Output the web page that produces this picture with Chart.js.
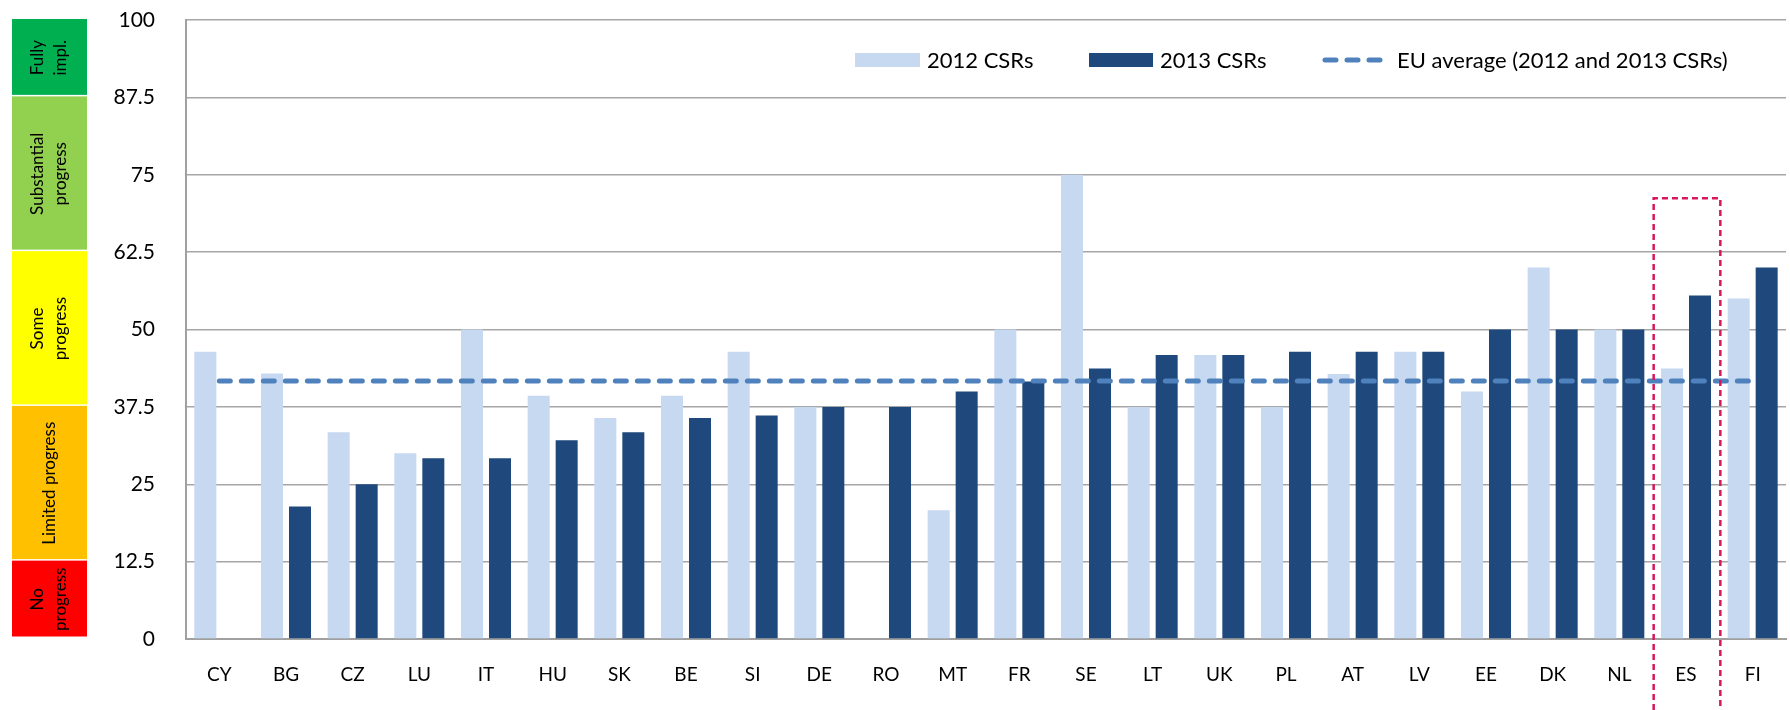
<!DOCTYPE html>
<html>
<head>
<meta charset="utf-8">
<script src="https://cdn.jsdelivr.net/npm/chart.js@4.4.0/dist/chart.umd.min.js"></script>
<style>
  html, body { margin: 0; padding: 0; background: white; }
  #wrap { width: 1790px; height: 710px; }
</style>
</head>
<body>
<div id="wrap"><canvas id="chart"></canvas></div>
<script>
const categories = ["CY", "BG", "CZ", "LU", "IT", "HU", "SK", "BE", "SI", "DE", "RO", "MT",
  "FR", "SE", "LT", "UK", "PL", "AT", "LV", "EE", "DK", "NL", "ES", "FI"];
const csr2012 = [46.4, 42.9, 33.4, 30.0, 50, 39.3, 35.7, 39.3, 46.4, 37.5, null, 20.8,
  50, 75, 37.5, 45.9, 37.5, 42.8, 46.4, 40.0, 60.0, 50, 43.7, 55.0];
const csr2013 = [null, 21.4, 25, 29.2, 29.2, 32.1, 33.4, 35.7, 36.1, 37.5, 37.5, 40.0,
  41.6, 43.7, 45.9, 45.9, 46.4, 46.4, 46.4, 50, 50, 50, 55.5, 60.0];
const euAverage = [41.7, 41.7, 41.7, 41.7, 41.7, 41.7, 41.7, 41.7, 41.7, 41.7, 41.7, 41.7,
  41.7, 41.7, 41.7, 41.7, 41.7, 41.7, 41.7, 41.7, 41.7, 41.7, 41.7, 41.7];
const yTicks = [0, 12.5, 25, 37.5, 50, 62.5, 75, 87.5, 100];

// progress bands on the left: from, to, label lines, colour
const bandFrom = [87.5, 62.5, 37.5, 12.5, 0];
const bandTo = [100, 87.5, 62.5, 37.5, 12.5];
const bandLabels = [["Fully", "impl."], ["Substantial", "progress"], ["Some", "progress"],
  ["Limited progress"], ["No", "progress"]];
const bandColors = ["#00b050", "#92d050", "#ffff00", "#ffc000", "#ff0000"];

const highlightCategory = "ES";
const highlightTop = 71.2;

const textFont = "Lato, 'Open Sans', sans-serif";

const bandsPlugin = {
  id: "bands",
  beforeDraw(chart) {
    const ctx = chart.ctx;
    const y = chart.scales.y;
    ctx.save();
    for (let i = 0; i < bandFrom.length; i++) {
      const top = y.getPixelForValue(bandTo[i]) - 1;
      const bottom = y.getPixelForValue(bandFrom[i]) - 1;
      const left = 12, right = 87;
      ctx.fillStyle = bandColors[i];
      ctx.fillRect(left, top, right - left, bottom - top - 1.5);
      ctx.save();
      ctx.translate((left + right) / 2, (top + bottom) / 2);
      ctx.rotate(-Math.PI / 2);
      ctx.fillStyle = "#000";
      ctx.font = "17px " + textFont;
      ctx.textAlign = "center";
      ctx.textBaseline = "middle";
      const lines = bandLabels[i];
      const lh = 23;
      lines.forEach((line, k) => {
        ctx.fillText(line, 0, (k - (lines.length - 1) / 2) * lh);
      });
      ctx.restore();
    }
    ctx.restore();
  },
};

const extrasPlugin = {
  id: "extras",
  afterDatasetsDraw(chart) {
    const ctx = chart.ctx;
    const x = chart.scales.x;
    const y = chart.scales.y;
    ctx.save();

    // dashed box round the highlighted country
    const idx = categories.indexOf(highlightCategory);
    const half = (x.getPixelForValue(1) - x.getPixelForValue(0)) / 2;
    const cx = x.getPixelForValue(idx);
    const top = y.getPixelForValue(highlightTop);
    ctx.strokeStyle = "#d6175d";
    ctx.lineWidth = 2.5;
    ctx.setLineDash([6, 4]);
    ctx.beginPath();
    ctx.moveTo(cx - half + 1, chart.height);
    ctx.lineTo(cx - half + 1, top);
    ctx.lineTo(cx + half + 1, top);
    ctx.lineTo(cx + half + 1, chart.height);
    ctx.stroke();

    // legend
    ctx.setLineDash([]);
    ctx.font = "22px " + textFont;
    ctx.textBaseline = "middle";
    ctx.textAlign = "left";
    const ly = 60;
    const ds = chart.data.datasets;
    const items = [
      { x: 855, w: 65, ds: ds[0] },
      { x: 1089, w: 64, ds: ds[1] },
      { x: 1322, w: 58, ds: ds[2] },
    ];
    items.forEach((it) => {
      if (it.ds.type === "line") {
        ctx.strokeStyle = it.ds.borderColor;
        ctx.lineWidth = it.ds.borderWidth;
        ctx.lineCap = "round";
        ctx.setLineDash([11, 11]);
        ctx.beginPath();
        ctx.moveTo(it.x + 3, ly);
        ctx.lineTo(it.x + it.w, ly);
        ctx.stroke();
        ctx.setLineDash([]);
      } else {
        ctx.fillStyle = it.ds.backgroundColor;
        ctx.fillRect(it.x, ly - 7, it.w, 14);
      }
      ctx.fillStyle = "#000";
      ctx.fillText(it.ds.label, it.x + it.w + (it.ds.type === "line" ? 17 : 7), ly + 1);
    });
    ctx.restore();
  },
};

const config = {
  data: {
    labels: categories,
    datasets: [
      {
        type: "bar",
        label: "2012 CSRs",
        data: csr2012,
        backgroundColor: "#c6d9f1",
        barPercentage: 0.786,
        categoryPercentage: 0.84,
        order: 1,
      },
      {
        type: "bar",
        label: "2013 CSRs",
        data: csr2013,
        backgroundColor: "#1f497d",
        barPercentage: 0.786,
        categoryPercentage: 0.84,
        order: 1,
      },
      {
        type: "line",
        label: "EU average (2012 and 2013 CSRs)",
        data: euAverage,
        borderColor: "#4f81bd",
        borderWidth: 5,
        borderDash: [11, 11],
        borderCapStyle: "round",
        pointRadius: 0,
        fill: false,
        order: 0,
      },
    ],
  },
  options: {
    responsive: true,
    maintainAspectRatio: false,
    animation: false,
    layout: { padding: { top: 20, right: 4, left: 0, bottom: 0 } },
    plugins: {
      legend: { display: false },
      tooltip: { enabled: false },
    },
    scales: {
      x: {
        grid: { display: false, drawTicks: false },
        border: { color: "#a0a0a0", width: 2 },
        ticks: {
          color: "#000",
          padding: 24,
          font: { family: textFont, size: 19 },
          maxRotation: 0,
        },
        afterFit(scale) { scale.height = 71; },
      },
      y: {
        min: 0,
        max: 100,
        grid: { color: "#a6a6a6", lineWidth: 1.5, drawTicks: false },
        border: { color: "#a0a0a0", width: 2 },
        afterBuildTicks(scale) { scale.ticks = yTicks.map((v) => ({ value: v })); },
        ticks: {
          color: "#000",
          padding: 31,
          font: { family: textFont, size: 21 },
          callback: (v) => String(v),
        },
        afterFit(scale) {
          scale.width = 186;
          scale.paddingTop = 0;
          scale.paddingBottom = 0;
        },
      },
    },
  },
  plugins: [bandsPlugin, extrasPlugin],
};

const ctx = document.getElementById("chart").getContext("2d");
const myChart = new Chart(ctx, config);
</script>
</body>
</html>
